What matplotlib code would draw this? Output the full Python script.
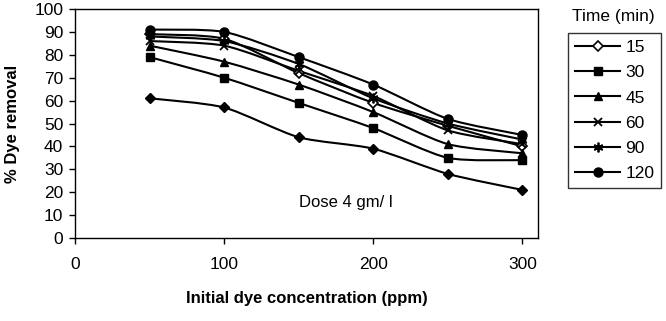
import matplotlib
matplotlib.use("Agg")
import matplotlib.pyplot as plt
import numpy as np
from matplotlib.path import Path
from matplotlib.patches import PathPatch
from matplotlib.lines import Line2D

plt.rcParams['font.family'] = ['Liberation Sans', 'DejaVu Sans']

# Initial dye concentration (ppm)
conc = [50, 100, 150, 200, 250, 300]

# % dye removal per contact time
removal_base = [61, 57, 44, 39, 28, 21]
removal_15 = [89, 87, 72, 59, 49, 40]
removal_30 = [79, 70, 59, 48, 35, 34]
removal_45 = [84, 77, 67, 55, 41, 37]
removal_60 = [86, 84, 73, 62, 47, 41]
removal_90 = [88, 86, 76, 61, 50, 43]
removal_120 = [91, 90, 79, 67, 52, 45]

time_labels = ["15", "30", "45", "60", "90", "120"]
y_ticks = list(range(0, 101, 10))
x_ticks = [0, 100, 200, 300]

W, H = 666, 321
fig = plt.figure(figsize=(W / 100, H / 100), dpi=100)
ax = fig.add_axes([75 / W, (H - 238) / H, (538 - 75) / W, (238 - 9) / H])


def smooth_path(x, y, tension=0.12):
    """Smoothed curve through the points, built from cubic Bezier segments."""
    x = np.asarray(x, float)
    y = np.asarray(y, float)
    n = len(x)
    verts = [(x[0], y[0])]
    codes = [Path.MOVETO]
    for i in range(n - 1):
        i0 = max(i - 1, 0)
        i3 = min(i + 2, n - 1)
        c1 = (x[i] + (x[i + 1] - x[i0]) * tension, y[i] + (y[i + 1] - y[i0]) * tension)
        c2 = (x[i + 1] - (x[i3] - x[i]) * tension, y[i + 1] - (y[i3] - y[i]) * tension)
        verts += [c1, c2, (x[i + 1], y[i + 1])]
        codes += [Path.CURVE4] * 3
    return Path(verts, codes)


series = [
    (removal_base, dict(marker='D', markersize=5.5, markerfacecolor='black')),
    (removal_15, dict(marker='D', markersize=5, markerfacecolor='white', markeredgewidth=1.2)),
    (removal_30, dict(marker='s', markersize=6, markerfacecolor='black')),
    (removal_45, dict(marker='^', markersize=6, markerfacecolor='black')),
    (removal_60, dict(marker='x', markersize=6, markeredgewidth=1.3)),
    (removal_90, dict(marker=(6, 2, 0), markersize=7, markeredgewidth=1.3)),
    (removal_120, dict(marker='o', markersize=6.5, markerfacecolor='black')),
]

handles = []
for idx, (vals, mstyle) in enumerate(series):
    patch = PathPatch(smooth_path(conc, vals), facecolor='none', edgecolor='black',
                      linewidth=1.5, zorder=2)
    ax.add_patch(patch)
    ax.plot(conc, vals, linestyle='none', color='black', markeredgecolor='black',
            zorder=3, **mstyle)
    if idx > 0:
        handles.append(Line2D([], [], color='black', linewidth=1.5,
                              markeredgecolor='black', **mstyle))

ax.set_xlim(0, 310.5)
ax.set_ylim(0, 100)
ax.set_xticks(x_ticks)
ax.set_yticks(y_ticks)
ax.tick_params(axis='both', direction='out', length=4.5, width=1, labelsize=12.5, colors='black')
ax.tick_params(axis='x', pad=9)
ax.tick_params(axis='y', pad=4)
for s in ax.spines.values():
    s.set_linewidth(1.0)
    s.set_color('black')

ax.set_xlabel("Initial dye concentration (ppm)", fontsize=12, fontweight='bold', labelpad=14)
ax.set_ylabel("% Dye removal", fontsize=12, fontweight='bold', labelpad=10)

ax.text(150, 15.3, "Dose 4 gm/ l", fontsize=12, ha='left', va='center')

leg = fig.legend(handles, time_labels, loc='upper left',
                 bbox_to_anchor=(568 / W, 1 - 33 / H), borderaxespad=0, fontsize=12.5,
                 handlelength=2.6, handletextpad=0.3, labelspacing=0.58,
                 borderpad=0.4, frameon=True, fancybox=False, edgecolor='black')
leg.get_frame().set_linewidth(1.0)
fig.text(613 / W, 1 - 16 / H, "Time (min)", fontsize=12.5, ha='center', va='center')

fig.savefig("out.png", dpi=100)
